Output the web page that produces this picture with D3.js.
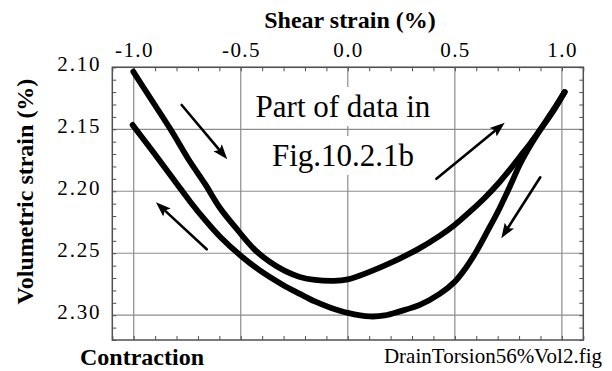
<!DOCTYPE html>
<html><head><meta charset="utf-8">
<script src="https://cdn.jsdelivr.net/npm/d3@7"></script>
<style>
html,body{margin:0;padding:0;background:#fff;}
text{font-family:"Liberation Serif","Times New Roman",serif;}
</style></head>
<body>
<svg id="chart" width="612" height="371"></svg>
<script>
// ---- data ----
const xTicks = [-1.0, -0.5, 0.0, 0.5, 1.0];
const xTickLabels = ["-1.0", "-0.5", "0.0", "0.5", "1.0"];
const yTicks = [2.10, 2.15, 2.20, 2.25, 2.30];
const yTickLabels = ["2.10", "2.15", "2.20", "2.25", "2.30"];

// upper branch: shear strain going from -1.0 to +1.0
const upperShear = [-1.002,-0.924,-0.826,-0.742,-0.667,-0.597,-0.519,-0.434,-0.364,-0.294,-0.224,-0.154,-0.070,0.000,0.163,0.322,0.429,0.499,0.569,0.639,0.709,0.756,0.803,0.854,0.901,0.957,1.013];
const upperVol   = [2.1035,2.1244,2.1506,2.1748,2.1941,2.2135,2.2304,2.2473,2.2570,2.2643,2.2691,2.2715,2.2723,2.2711,2.2606,2.2473,2.2360,2.2272,2.2167,2.2054,2.1925,2.1828,2.1723,2.1610,2.1498,2.1360,2.1199];
// lower branch: shear strain going from +1.0 back to -1.0
const lowerShear = [1.013,0.957,0.901,0.854,0.807,0.756,0.705,0.653,0.602,0.551,0.499,0.429,0.336,0.243,0.173,0.103,0.000,-0.084,-0.154,-0.224,-0.303,-0.411,-0.504,-0.593,-0.667,-0.737,-0.798,-0.862,-0.939,-1.005];
const lowerVol   = [2.1199,2.1352,2.1498,2.1627,2.1772,2.1965,2.2151,2.2320,2.2481,2.2619,2.2731,2.2828,2.2917,2.2969,2.3002,2.3010,2.2981,2.2937,2.2889,2.2828,2.2756,2.2639,2.2514,2.2373,2.2231,2.2082,2.1941,2.1792,2.1615,2.1465];

// direction arrows (start -> tip) in data units
const arrowX0 = [-0.776, -0.659, 0.414, 0.899];
const arrowY0 = [2.1304, 2.2468, 2.190, 2.1887];
const arrowX1 = [-0.563, -0.896, 0.733, 0.717];
const arrowY1 = [2.1742, 2.2089, 2.1447, 2.2379];

const noteLines = ["Part of data in", "Fig.10.2.1b"];

// ---- layout ----
const svg = d3.select("#chart");
const L = 112.3, R = 583.3, T = 67.3, B = 340;
const x = d3.scaleLinear().domain([-1.1, 1.1]).range([L, R]);
const y = d3.scaleLinear().domain([2.10, 2.32]).range([T, B]);
const gridC = "#8c8c8c", frameC = "#505050";
const FF = '"Liberation Serif","Times New Roman",serif';

// grid
const g = svg.append("g");
g.selectAll(".vg").data(xTicks).join("line")
  .attr("x1", d => x(d)).attr("x2", d => x(d)).attr("y1", T).attr("y2", B)
  .attr("stroke", gridC).attr("stroke-width", 1.2);
g.selectAll(".hg").data(yTicks).join("line")
  .attr("y1", d => y(d)).attr("y2", d => y(d)).attr("x1", L).attr("x2", R)
  .attr("stroke", gridC).attr("stroke-width", 1.2);

// minor ticks (inward) via axes
const xMinor = d3.range(-11, 12).map(i => i / 10);
const yMinor = d3.range(210, 233).map(i => i / 100);
svg.append("g").attr("transform", `translate(0,${T})`)
  .call(d3.axisBottom(x).tickValues(xMinor).tickSize(4).tickFormat(""))
  .call(a => a.select(".domain").remove())
  .call(a => a.selectAll("line").attr("stroke", frameC));
svg.append("g").attr("transform", `translate(0,${B})`)
  .call(d3.axisTop(x).tickValues(xMinor).tickSize(4).tickFormat(""))
  .call(a => a.select(".domain").remove())
  .call(a => a.selectAll("line").attr("stroke", frameC));
svg.append("g").attr("transform", `translate(${L},0)`)
  .call(d3.axisRight(y).tickValues(yMinor).tickSize(4).tickFormat(""))
  .call(a => a.select(".domain").remove())
  .call(a => a.selectAll("line").attr("stroke", frameC));
svg.append("g").attr("transform", `translate(${R},0)`)
  .call(d3.axisLeft(y).tickValues(yMinor).tickSize(4).tickFormat(""))
  .call(a => a.select(".domain").remove())
  .call(a => a.selectAll("line").attr("stroke", frameC));

// frame
svg.append("rect").attr("x", L).attr("y", T).attr("width", R - L).attr("height", B - T)
  .attr("fill", "none").attr("stroke", frameC).attr("stroke-width", 1.5);

// tick labels
svg.selectAll(".xl").data(xTicks).join("text")
  .attr("font-family", FF)
  .attr("x", d => x(d) + 0.7).attr("y", 57)
  .attr("text-anchor", "middle").attr("font-size", 21).attr("letter-spacing", 1.4)
  .text((d, i) => xTickLabels[i]);
svg.selectAll(".yl").data(yTicks).join("text")
  .attr("font-family", FF)
  .attr("x", L - 11).attr("y", d => y(d) + 3.5)
  .attr("text-anchor", "end").attr("font-size", 21).attr("letter-spacing", 1.8)
  .text((d, i) => yTickLabels[i]);

// titles
svg.append("text").attr("font-family", FF).attr("x", 350).attr("y", 28).attr("text-anchor", "middle")
  .attr("font-size", 24).attr("font-weight", "bold").text("Shear strain (%)");
svg.append("text").attr("font-family", FF).attr("transform", "translate(33,191.5) rotate(-90)").attr("text-anchor", "middle")
  .attr("font-size", 24).attr("font-weight", "bold").text("Volumetric strain (%)");
svg.append("text").attr("font-family", FF).attr("x", 80).attr("y", 365)
  .attr("font-size", 24).attr("font-weight", "bold").text("Contraction");
svg.append("text").attr("font-family", FF).attr("x", 602).attr("y", 363).attr("text-anchor", "end")
  .attr("font-size", 21).text("DrainTorsion56%Vol2.fig");

// note with white boxes
const noteBase = [117, 166];
noteLines.forEach((s, i) => {
  const gg = svg.append("g");
  const r = gg.append("rect").attr("fill", "#fff");
  const t = gg.append("text").attr("font-family", FF).attr("x", 343).attr("y", noteBase[i])
    .attr("text-anchor", "middle").attr("font-size", 31).text(s);
  const bb = t.node().getBBox();
  r.attr("x", bb.x - 1).attr("y", bb.y - 2).attr("width", bb.width + 2).attr("height", bb.height + 4);
});

// curves
const line = d3.line().x(d => x(d[0])).y(d => y(d[1])).curve(d3.curveCatmullRom.alpha(0.5));
const upper = upperShear.map((v, i) => [v, upperVol[i]]);
const lower = lowerShear.map((v, i) => [v, lowerVol[i]]);
[upper, lower].forEach(p => {
  svg.append("path").attr("d", line(p)).attr("fill", "none").attr("stroke", "#000")
    .attr("stroke-width", 5.8).attr("stroke-linecap", "round").attr("stroke-linejoin", "round");
});

// arrows
arrowX0.forEach((_, i) => {
  const x0 = x(arrowX0[i]), y0 = y(arrowY0[i]), x1 = x(arrowX1[i]), y1 = y(arrowY1[i]);
  const ang = Math.atan2(y1 - y0, x1 - x0);
  const hl = 15, hw = 5.5;
  const bx = x1 - hl * Math.cos(ang), by = y1 - hl * Math.sin(ang);
  svg.append("line").attr("x1", x0).attr("y1", y0).attr("x2", bx + 2 * Math.cos(ang)).attr("y2", by + 2 * Math.sin(ang))
    .attr("stroke", "#000").attr("stroke-width", 2.6).attr("stroke-linecap", "round");
  const px = -Math.sin(ang), py = Math.cos(ang);
  svg.append("path").attr("d", `M${x1},${y1}L${bx + hw * px},${by + hw * py}L${bx + 3 * Math.cos(ang)},${by + 3 * Math.sin(ang)}L${bx - hw * px},${by - hw * py}Z`)
    .attr("fill", "#000");
});
</script>
</body></html>
